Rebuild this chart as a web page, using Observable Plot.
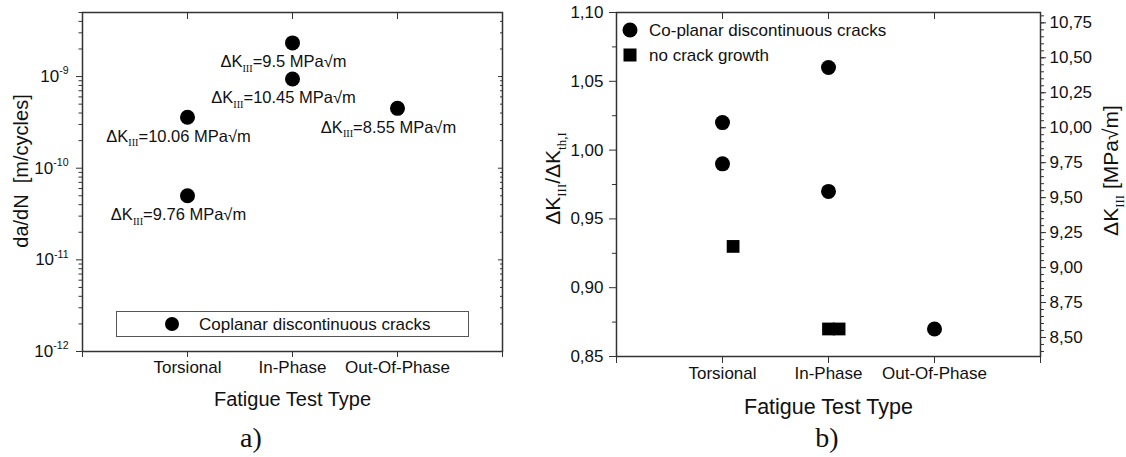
<!DOCTYPE html>
<html>
<head>
<meta charset="utf-8">
<script src="https://cdn.jsdelivr.net/npm/d3@7"></script>
<script src="https://cdn.jsdelivr.net/npm/@observablehq/plot@0.6"></script>
<style>
  html, body { margin: 0; padding: 0; background: #fff; }
  #wrap { position: relative; width: 1126px; height: 457px; overflow: hidden;
          font-family: "Liberation Sans", Arial, sans-serif; color: #111; }
  .panel { position: absolute; top: 0; }
  .cap { position: absolute; font-family: "Liberation Serif", "Times New Roman", serif;
         font-size: 28px; transform: translate(-50%, -50%); line-height: 1; }
  .leg { position: absolute; font-size: 17px; line-height: 1; white-space: nowrap;
         transform: translateY(-50%); }
  .sym { position: absolute; background: #000; transform: translate(-50%, -50%); }
  .box { position: absolute; border: 1px solid #555; box-sizing: border-box; }
</style>
</head>
<body>
<div id="wrap">
  <div class="panel" id="pa" style="left:0px"></div>
  <div class="panel" id="pb" style="left:540px"></div>

  <!-- legend, panel a -->
  <div class="box" style="left:116px;top:311px;width:353px;height:26px"></div>
  <div class="sym" style="left:172px;top:324px;width:14px;height:14px;border-radius:50%"></div>
  <div class="leg" id="legA" style="left:199px;top:324px"></div>

  <!-- legend, panel b -->
  <div class="sym" style="left:630px;top:30px;width:15px;height:15px;border-radius:50%"></div>
  <div class="leg" id="legB1" style="left:649px;top:30px"></div>
  <div class="sym" style="left:630px;top:55px;width:13px;height:13px"></div>
  <div class="leg" id="legB2" style="left:649px;top:55px"></div>

  <div class="cap" id="capA" style="left:251px;top:438px"></div>
  <div class="cap" id="capB" style="left:827px;top:438px"></div>
</div>
<script>
// ---------- data ----------
const testTypes = ["Torsional", "In-Phase", "Out-Of-Phase"];

// panel a) crack growth rate (log scale)
const aTest   = ["Torsional", "Torsional", "In-Phase", "In-Phase", "Out-Of-Phase"];
const aRate   = [3.6e-10, 5.0e-11, 2.33e-9, 9.4e-10, 4.5e-10];
const aDeltaK = ["10.06", "9.76", "9.5", "10.45", "8.55"];
const aRateTicks = [1e-12, 1e-11, 1e-10, 1e-9];
const aLegend = "Coplanar discontinuous cracks";

// panel b) normalised stress intensity range
const bCircleTest  = ["Torsional", "Torsional", "In-Phase", "In-Phase", "Out-Of-Phase"];
const bCircleRatio = [1.02, 0.99, 1.06, 0.97, 0.87];
const bSquareTest  = ["Torsional", "In-Phase", "In-Phase"];
const bSquareRatio = [0.93, 0.87, 0.87];
const bSquareShift = [0.1, 0, 0.1];
const ratioTicks = [0.85, 0.90, 0.95, 1.00, 1.05, 1.10];
const kTicks = [8.50, 8.75, 9.00, 9.25, 9.50, 9.75, 10.00, 10.25, 10.50, 10.75];
const kThreshold = 9.84;
const bLegend = ["Co-planar discontinuous cracks", "no crack growth"];

// ---------- helpers ----------
const axisColor = "#333";
const comma = (v) => v.toFixed(2).replace(".", ",");
const pos = (t) => testTypes.indexOf(t) + 1;

function richText(root) {
  d3.select(root).selectAll("text").each(function () {
    const s = this.textContent;
    if (!/[_^]\{/.test(s)) return;
    const t = d3.select(this);
    t.text(null);
    const re = /([_^])\{([^}]*)\}/g;
    let last = 0, m, cur = 0;
    const seg = (str, kind) => {
      if (!str) return;
      const small = kind !== "n";
      const target = kind === "_" ? 0.28 : kind === "^" ? -0.45 : 0;
      const sp = t.append("tspan").text(str);
      if (small) {
        sp.style("font-size", "62%");
        if (kind === "_") sp.style("font-family", "'Liberation Serif', 'Times New Roman', serif");
      }
      const d = target - cur;
      if (Math.abs(d) > 1e-6) sp.attr("dy", (small ? d / 0.62 : d).toFixed(3) + "em");
      cur = target;
    };
    while ((m = re.exec(s))) {
      seg(s.slice(last, m.index), "n");
      seg(m[2], m[1]);
      last = m.index + m[0].length;
    }
    seg(s.slice(last), "n");
  });
}

// ---------- panel a ----------
const aData = aTest.map((t, i) => ({
  pos: pos(t), rate: aRate[i], label: `ΔK_{III}=${aDeltaK[i]} MPa√m`
}));
const aMinor = d3.range(-12, -8).flatMap(e => d3.range(2, 10).map(k => k * Math.pow(10, e)))
  .filter(v => v <= 5e-9);

const plotA = Plot.plot({
  width: 545, height: 415,
  marginLeft: 82, marginRight: 43, marginTop: 12, marginBottom: 64,
  style: { fontFamily: "'Liberation Sans', Arial, sans-serif", fontSize: "17px", color: "#111", background: "white", overflow: "visible" },
  x: { domain: [0, 4] },
  y: { type: "log", domain: [1e-12, 5e-9] },
  marks: [
    Plot.axisX({ anchor: "bottom", ticks: [0, 1, 2, 3, 4], tickSize: 6, tickPadding: 3, stroke: axisColor,
                 tickFormat: d => (d >= 1 && d <= 3 ? testTypes[d - 1] : ""), label: null }),
    Plot.axisX({ anchor: "top", ticks: [1, 2, 3], tickSize: -6, stroke: axisColor, tickFormat: () => "", label: null }),
    Plot.axisY({ anchor: "left", ticks: aRateTicks, tickSize: 6, tickPadding: 8, stroke: axisColor,
                 tickFormat: d => `10^{${Math.round(Math.log10(d))}}`, label: null }),
    Plot.axisY({ anchor: "left", ticks: aMinor, tickSize: 3.5, stroke: axisColor, tickFormat: () => "", label: null }),
    Plot.axisY({ anchor: "right", ticks: aRateTicks, tickSize: -5, stroke: axisColor, tickFormat: () => "", label: null }),
    Plot.axisY({ anchor: "right", ticks: aMinor, tickSize: -3, stroke: axisColor, tickFormat: () => "", label: null }),
    Plot.frame({ stroke: axisColor, strokeWidth: 1.5 }),
    Plot.dot(aData, { x: "pos", y: "rate", r: 7.5, fill: "#000", stroke: null }),
    Plot.text(aData, { x: "pos", y: "rate", text: "label", dx: -9, dy: 19, fontSize: 16.5, fill: "#111" }),
    Plot.text(["Fatigue Test Type"], { frameAnchor: "bottom", textAnchor: "middle", lineAnchor: "middle", dy: 48, fontSize: 20, fill: "#111" }),
    Plot.text(["da/dN\u00a0\u00a0[m/cycles]"], { frameAnchor: "left", textAnchor: "middle", lineAnchor: "middle", rotate: -90, dx: -61, dy: -11, fontSize: 20, fill: "#111" })
  ]
});
document.getElementById("pa").appendChild(plotA);
richText(plotA);

// ---------- panel b ----------
const bCircles = bCircleTest.map((t, i) => ({ pos: pos(t), ratio: bCircleRatio[i] }));
const bSquares = bSquareTest.map((t, i) => ({ pos: pos(t) + bSquareShift[i], ratio: bSquareRatio[i] }));
const ratioMinor = d3.range(0, 5).map(i => ratioTicks[i] + 0.025);
const kMinor = d3.range(0, 49).map(i => 8.40 + i * 0.05).filter(k => k <= 10.82);

const plotB = Plot.plot({
  width: 586, height: 415,
  marginLeft: 76, marginRight: 86, marginTop: 12, marginBottom: 59,
  style: { fontFamily: "'Liberation Sans', Arial, sans-serif", fontSize: "17px", color: "#111", background: "white", overflow: "visible" },
  x: { domain: [0, 4] },
  y: { domain: [0.85, 1.10] },
  marks: [
    Plot.axisX({ anchor: "bottom", ticks: [0, 1, 2, 3, 4], tickSize: 7, tickPadding: 3, stroke: axisColor,
                 tickFormat: d => (d >= 1 && d <= 3 ? testTypes[d - 1] : ""), label: null }),
    Plot.axisX({ anchor: "top", ticks: [1, 2, 3], tickSize: -6, stroke: axisColor, tickFormat: () => "", label: null }),
    Plot.axisY({ anchor: "left", ticks: ratioTicks, tickSize: 7, tickPadding: 6, stroke: axisColor,
                 tickFormat: comma, label: null }),
    Plot.axisY({ anchor: "left", ticks: ratioMinor, tickSize: 4, stroke: axisColor, tickFormat: () => "", label: null }),
    Plot.axisY({ anchor: "right", ticks: kTicks.map(k => k / kThreshold), tickSize: 5, tickPadding: 4, stroke: axisColor,
                 tickFormat: d => comma(d * kThreshold), label: null }),
    Plot.axisY({ anchor: "right", ticks: kMinor.map(k => k / kThreshold), tickSize: 3, stroke: axisColor, tickFormat: () => "", label: null }),
    Plot.frame({ stroke: axisColor, strokeWidth: 1.5 }),
    Plot.dot(bCircles, { x: "pos", y: "ratio", r: 7.5, fill: "#000", stroke: null }),
    Plot.dot(bSquares, { x: "pos", y: "ratio", r: 7.2, symbol: "square", fill: "#000", stroke: null }),
    Plot.text(["Fatigue Test Type"], { frameAnchor: "bottom", textAnchor: "middle", lineAnchor: "middle", dy: 51, fontSize: 21.5, fill: "#111" }),
    Plot.text(["ΔK_{III}/ΔK_{th,I}"], { frameAnchor: "left", textAnchor: "middle", lineAnchor: "middle", rotate: -90, dx: -63, dy: -6, fontSize: 21, fill: "#111" }),
    Plot.text(["ΔK_{III} [MPa√m]"], { frameAnchor: "right", textAnchor: "middle", lineAnchor: "middle", rotate: -90, dx: 71, dy: -14, fontSize: 21, fill: "#111" })
  ]
});
document.getElementById("pb").appendChild(plotB);
richText(plotB);

// ---------- legends & captions ----------
document.getElementById("legA").textContent = aLegend;
document.getElementById("legB1").textContent = bLegend[0];
document.getElementById("legB2").textContent = bLegend[1];
document.getElementById("capA").textContent = "a)";
document.getElementById("capB").textContent = "b)";
</script>
</body>
</html>
